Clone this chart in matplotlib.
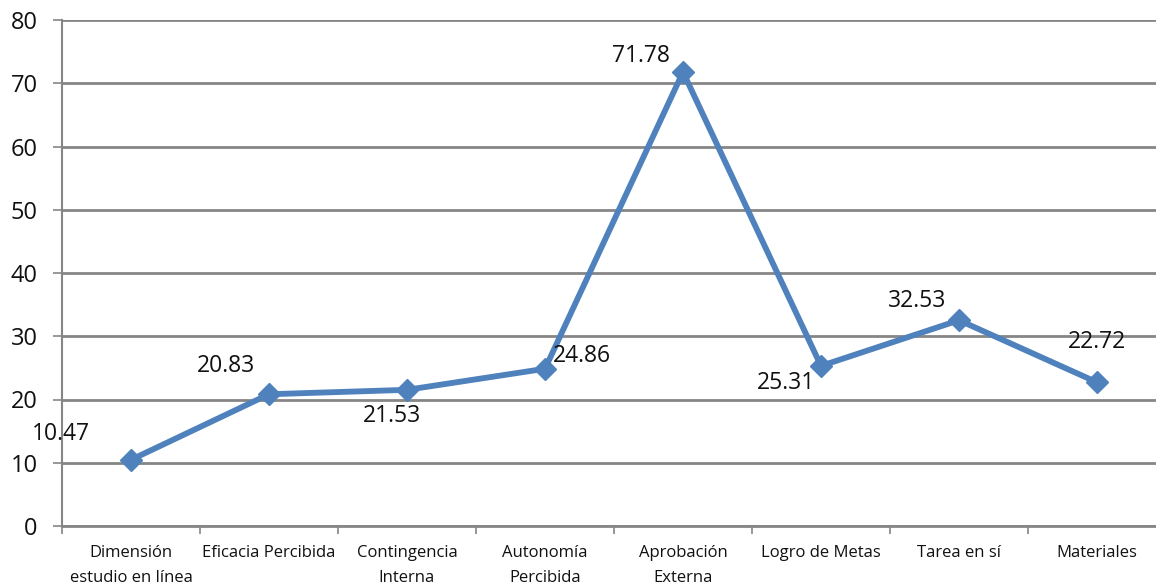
import matplotlib
matplotlib.use("Agg")
import matplotlib.pyplot as plt
import numpy as np

categories = ["Dimensión\nestudio en línea", "Eficacia Percibida", "Contingencia\nInterna",
              "Autonomía\nPercibida", "Aprobación\nExterna", "Logro de Metas",
              "Tarea en sí", "Materiales"]
values = [10.47, 20.83, 21.53, 24.86, 71.78, 25.31, 32.53, 22.72]
value_labels = ["10.47", "20.83", "21.53", "24.86", "71.78", "25.31", "32.53", "22.72"]
# label offsets from each point, in pixels
label_offsets = [(-70, 26), (-43, 28), (-15, -26), (37, 13), (-42, 16), (-35, -17), (-42, 19), (0, 40)]

plt.rcParams['font.family'] = ['Open Sans', 'DejaVu Sans']

W, H = 1156, 586
fig = plt.figure(figsize=(W / 100, H / 100), dpi=100)
left, right = 62, 1166
bottom, top = 526, 20
ax = fig.add_axes([left / W, (H - bottom) / H, (right - left) / W, (bottom - top) / H])

grid_color = "#868686"
line_color = "#4F81BD"

x = np.arange(len(categories))
ax.set_xlim(-0.5, len(categories) - 0.5)
ax.set_ylim(0, 80)
ax.set_yticks(np.arange(0, 81, 10))
ax.yaxis.grid(True, color=grid_color, linewidth=2)
ax.set_axisbelow(True)

for side in ("top", "right"):
    ax.spines[side].set_visible(False)
ax.spines["left"].set_color(grid_color)
ax.spines["left"].set_linewidth(1.5)
ax.spines["bottom"].set_color(grid_color)
ax.spines["bottom"].set_linewidth(2)

ax.set_xticks(x)
ax.set_xticklabels(categories, fontsize=12, linespacing=1.75, color="#111111")
ax.tick_params(axis="x", length=0, pad=14)
ax.set_xticks(np.arange(-0.5, len(categories), 1), minor=True)
ax.tick_params(axis="x", which="minor", length=6, color=grid_color, width=1.2)
ax.tick_params(axis="y", length=6.5, color=grid_color, width=1.2, labelsize=17, pad=11,
               labelcolor="#111111")

ax.plot(x, values, color=line_color, linewidth=4.2, marker="D", markersize=11.5,
        markerfacecolor=line_color, markeredgecolor=line_color, clip_on=False, zorder=3)

for xi, v, lab, (dx, dy) in zip(x, values, value_labels, label_offsets):
    ax.annotate(lab, (xi, v), xytext=(dx, dy), textcoords="offset pixels",
                ha="center", va="center", fontsize=16.5, color="#111111")

fig.savefig("out.png", dpi=100)
